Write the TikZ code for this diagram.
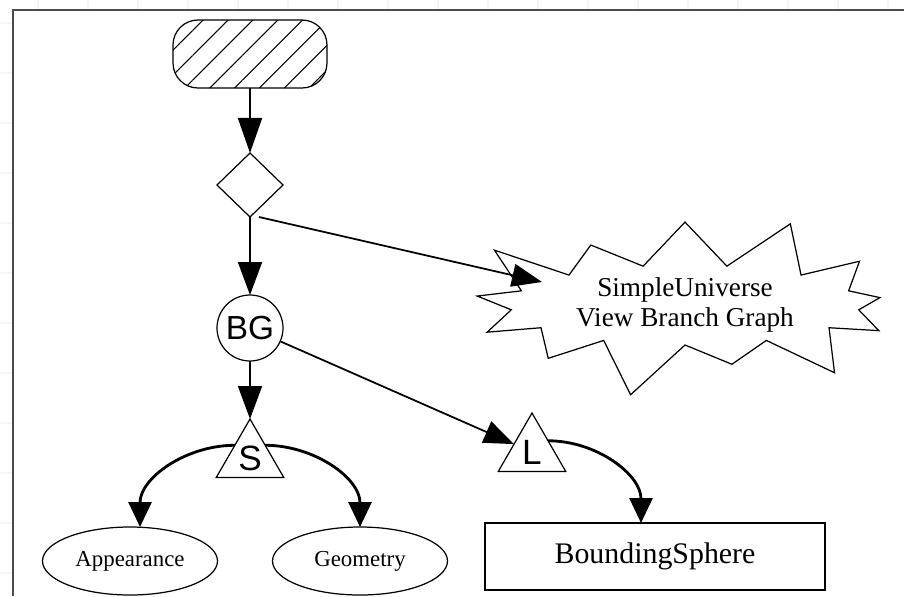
\documentclass[tikz,border=0pt]{standalone}
\usepackage{fontspec}
\setmainfont{Liberation Serif}
\newfontfamily\labelsans{Liberation Sans}
\usetikzlibrary{arrows.meta, positioning, shapes.geometric, shapes.symbols, patterns.meta}

\begin{document}
\begin{tikzpicture}[
      >={Triangle[length=0.6cm, width=0.46cm]},
      every node/.style={draw, line width=0.7pt, inner sep=0pt, outer sep=0pt},
      link/.style={->, line width=1pt},
      curvelink/.style={->, line width=1.6pt, >={Triangle[length=0.5cm, width=0.46cm]}},
      grp/.style={circle, minimum size=1.32cm, font=\labelsans\fontsize{19}{19}\selectfont},
      leaf/.style={ellipse, minimum width=3.5cm, minimum height=1.36cm, font=\fontsize{13}{13}\selectfont},
      tri/.style={regular polygon, regular polygon sides=3, minimum size=1.56cm, font=\labelsans\fontsize{20}{20}\selectfont}
    ]
      \useasboundingbox (0,0) rectangle (18.08,-11.92);
      % faint grid round the frame
      \foreach \x in {0.76,1.76,...,17.9} \draw[black!4, line width=1.2pt] (\x,0) -- (\x,-0.18);
      \foreach \y in {-0.46,-1.46,...,-11.9} \draw[black!4, line width=1.2pt] (0,\y) -- (0.24,\y);
      \draw[black!70, line width=1pt] (18.08,-0.2) -- (0.26,-0.2) -- (0.26,-11.92);

      \node[rounded corners=0.5cm, minimum width=3.08cm, minimum height=1.36cm,
            pattern={Lines[angle=45, distance=10pt, line width=0.6pt]}] (vu) at (5,-1.08) {};
      \node[diamond, below=1.3cm of vu, minimum width=1.32cm, minimum height=1.28cm] (loc) {};
      \node[grp, below=1.56cm of loc] (bg) {BG};
      \node[tri, below=1.16cm of bg] (s) {S};
      \node[tri] (l) at (10.64,-9.04) {L};
      \node[leaf] (app) at (2.6,-11.22) {Appearance};
      \node[leaf] (geo) at (7.2,-11.22) {Geometry};
      \node[minimum width=6.8cm, minimum height=1.34cm, font=\fontsize{17}{17}\selectfont] (bs) at (13.1,-11.13) {BoundingSphere};
      \node[starburst, starburst points=13, starburst point height=1.2cm, minimum width=9.4cm, minimum height=4cm,
            align=center, font=\fontsize{15.5}{17}\selectfont] (view) at (13.7,-6.1) {SimpleUniverse\\View Branch Graph};

      \draw[link, >={Triangle[length=0.7cm, width=0.48cm]}] (vu) -- (loc);
      \draw[link, >={Triangle[length=0.66cm, width=0.48cm]}] (loc) -- (bg);
      \draw[link, >={Triangle[length=0.66cm, width=0.48cm]}] (bg) -- (s);
      \draw[link] ([xshift=0.18cm]loc.south) -- ([shift={(-2.86,0.46)}]view.center);
      \draw[link] (bg) -- (l);
      \draw[curvelink] (s.140) to[out=180, in=90] ([xshift=0.2cm]app.north);
      \draw[curvelink] (s.40) to[out=0, in=90] (geo.north);
      \draw[curvelink] (l.35) to[out=0, in=90] ([xshift=-0.28cm]bs.north);
    \end{tikzpicture}
\end{document}
